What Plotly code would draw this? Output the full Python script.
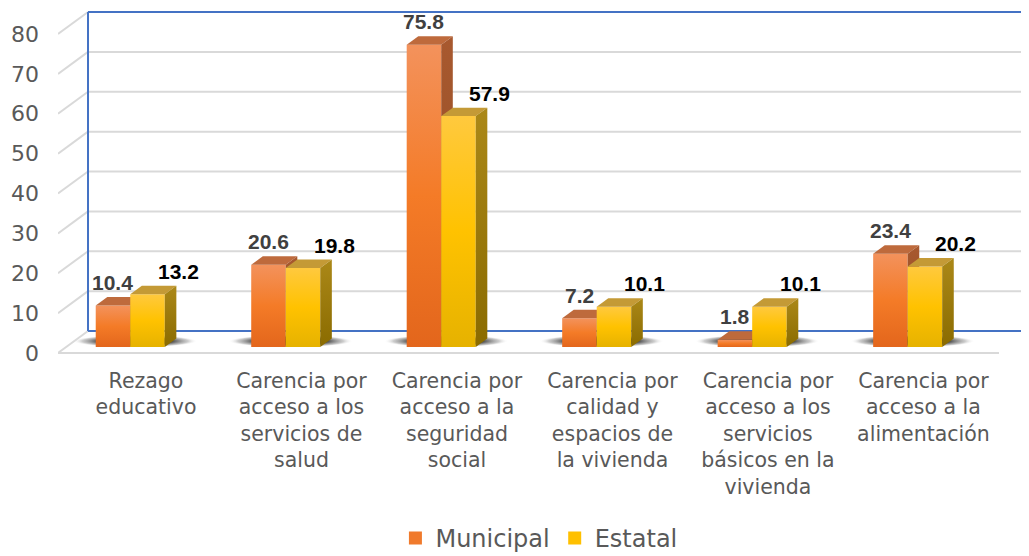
import numpy as np
import plotly.graph_objects as go

# datos
categorias = [
    "Rezago<br>educativo",
    "Carencia por<br>acceso a los<br>servicios de<br>salud",
    "Carencia por<br>acceso a la<br>seguridad<br>social",
    "Carencia por<br>calidad y<br>espacios de<br>la vivienda",
    "Carencia por<br>acceso a los<br>servicios<br>básicos en la<br>vivienda",
    "Carencia por<br>acceso a la<br>alimentación",
]
municipal = [10.4, 20.6, 75.8, 7.2, 1.8, 23.4]
estatal = [13.2, 19.8, 57.9, 10.1, 10.1, 20.2]
y_ticks = [0, 10, 20, 30, 40, 50, 60, 70, 80]

# geometría "3D" (en unidades de los ejes)
X_RANGE = [-0.412, 5.833]
Y_RANGE = [-0.75, 86.52]
DX, DY = 0.193, 5.517          # profundidad completa (pared del fondo)
F0, F1 = 0.273, 0.659          # cara frontal / trasera de las barras
BAR_W = 0.222
LABEL_OFF = 0.154

GRID = '#D9D9D9'
WALL = '#4472C4'
TXT = '#595959'

SERIES = [
    dict(name='Municipal', values=municipal, side=-1, label_color='#404040', label_dx=0,
         front=[[0, '#E3661C'], [0.5, '#F47B27'], [1, '#F3925C']],
         top='#BE6A3C', flank=[[0, '#8E4A22'], [1, '#A8592F']], legend='#F07A2C'),
    dict(name='Estatal', values=estatal, side=1, label_color='#000000', label_dx=31,
         front=[[0, '#E6B200'], [0.5, '#FFC200'], [1, '#FFC93E']],
         top='#C49A36', flank=[[0, '#8A6B00'], [1, '#AB8818']], legend='#FFC000'),
]


def proj(x, y, d):
    return x + d * DX, y + d * DY


def poly(pts, **kw):
    xs = [p[0] for p in pts] + [pts[0][0]]
    ys = [p[1] for p in pts] + [pts[0][1]]
    return go.Scatter(x=xs, y=ys, mode='lines', fill='toself', line=dict(width=0),
                      hoverinfo='skip', showlegend=False, **kw)


fig = go.Figure()

# sombras en el piso
t = np.linspace(0, 2 * np.pi, 72)
for i in range(len(categorias)):
    cx, cy = proj(i - 0.02, 0, 0.54)
    fig.add_trace(go.Scatter(
        x=cx + 0.40 * np.cos(t), y=cy + 1.6 * np.sin(t), mode='lines', fill='toself',
        line=dict(width=0), hoverinfo='skip', showlegend=False,
        fillgradient=dict(type='radial', colorscale=[[0, 'rgba(20,20,20,1)'],
                                                     [0.6, 'rgba(50,50,50,0.85)'],
                                                     [0.85, 'rgba(130,130,130,0.4)'],
                                                     [1, 'rgba(255,255,255,0)']])))

# barras (cara frontal, superior y lateral)
for i in range(len(categorias)):
    for s in SERIES:
        v = s['values'][i]
        x0 = i if s['side'] > 0 else i - BAR_W
        x1 = x0 + BAR_W
        front = [proj(x0, 0, F0), proj(x1, 0, F0), proj(x1, v, F0), proj(x0, v, F0)]
        top = [proj(x0, v, F0), proj(x1, v, F0), proj(x1, v, F1), proj(x0, v, F1)]
        flank = [proj(x1, 0, F0), proj(x1, v, F0), proj(x1, v, F1), proj(x1, 0, F1)]
        fig.add_trace(poly(front, fillgradient=dict(type='vertical', colorscale=s['front'])))
        fig.add_trace(poly(top, fillcolor=s['top']))
        fig.add_trace(poly(flank, fillgradient=dict(type='vertical', colorscale=s['flank'])))
        lx, ly = proj((x0 + x1) / 2, v, F0)
        fig.add_annotation(x=lx, y=ly, text=f"{v:.1f}", showarrow=False,
                           xshift=s['label_dx'], yshift=23, yanchor='middle',
                           font=dict(family='Liberation Sans', size=21, weight='bold',
                                     color=s['label_color']))

# leyenda
for s in SERIES:
    fig.add_trace(go.Scatter(x=[None], y=[None], mode='markers', name=s['name'],
                             marker=dict(symbol='square', size=13, color=s['legend'])))

# paredes y cuadrícula
xl = X_RANGE[0]
xr = X_RANGE[1]
for v in y_ticks:
    bx, by = proj(xl, v, 1)
    fig.add_shape(type='line', x0=xl, y0=v, x1=bx, y1=by, line=dict(color=GRID, width=2), layer='below')
    col = WALL if v in (0, y_ticks[-1]) else GRID
    fig.add_shape(type='line', x0=bx, y0=by, x1=xr + 0.01, y1=by, line=dict(color=col, width=2), layer='below')
b0 = proj(xl, 0, 1)
b1 = proj(xl, y_ticks[-1], 1)
fig.add_shape(type='line', x0=b0[0], y0=b0[1], x1=b1[0], y1=b1[1], line=dict(color=WALL, width=2), layer='below')
fig.add_shape(type='line', x0=xl, y0=0, x1=xr - DX, y1=0, line=dict(color=GRID, width=2), layer='below')

# la página tiene 8px de margen en el body: la figura se dibuja desplazada
fig.update_layout(
    width=1021, height=548,
    margin=dict(l=50, r=0, t=0, b=200, autoexpand=False),
    paper_bgcolor='white', plot_bgcolor='white',
    showlegend=True,
    legend=dict(orientation='h', xref='container', yref='container',
                x=0.520, xanchor='center', y=0.032, yanchor='middle',
                font=dict(family='DejaVu Sans', size=24, color=TXT)),
    xaxis=dict(range=X_RANGE, tickvals=[i + LABEL_OFF for i in range(len(categorias))],
               ticktext=categorias, showgrid=False, zeroline=False, showline=False,
               ticks='', ticklabelstandoff=10, automargin=False,
               tickfont=dict(family='DejaVu Sans', size=20.5, color=TXT)),
    yaxis=dict(range=Y_RANGE, tickvals=y_ticks, showgrid=False, zeroline=False,
               showline=False, ticks='', ticklabelstandoff=18, automargin=False,
               tickfont=dict(family='DejaVu Sans', size=22, color=TXT)),
)

fig.write_html("out.html")
